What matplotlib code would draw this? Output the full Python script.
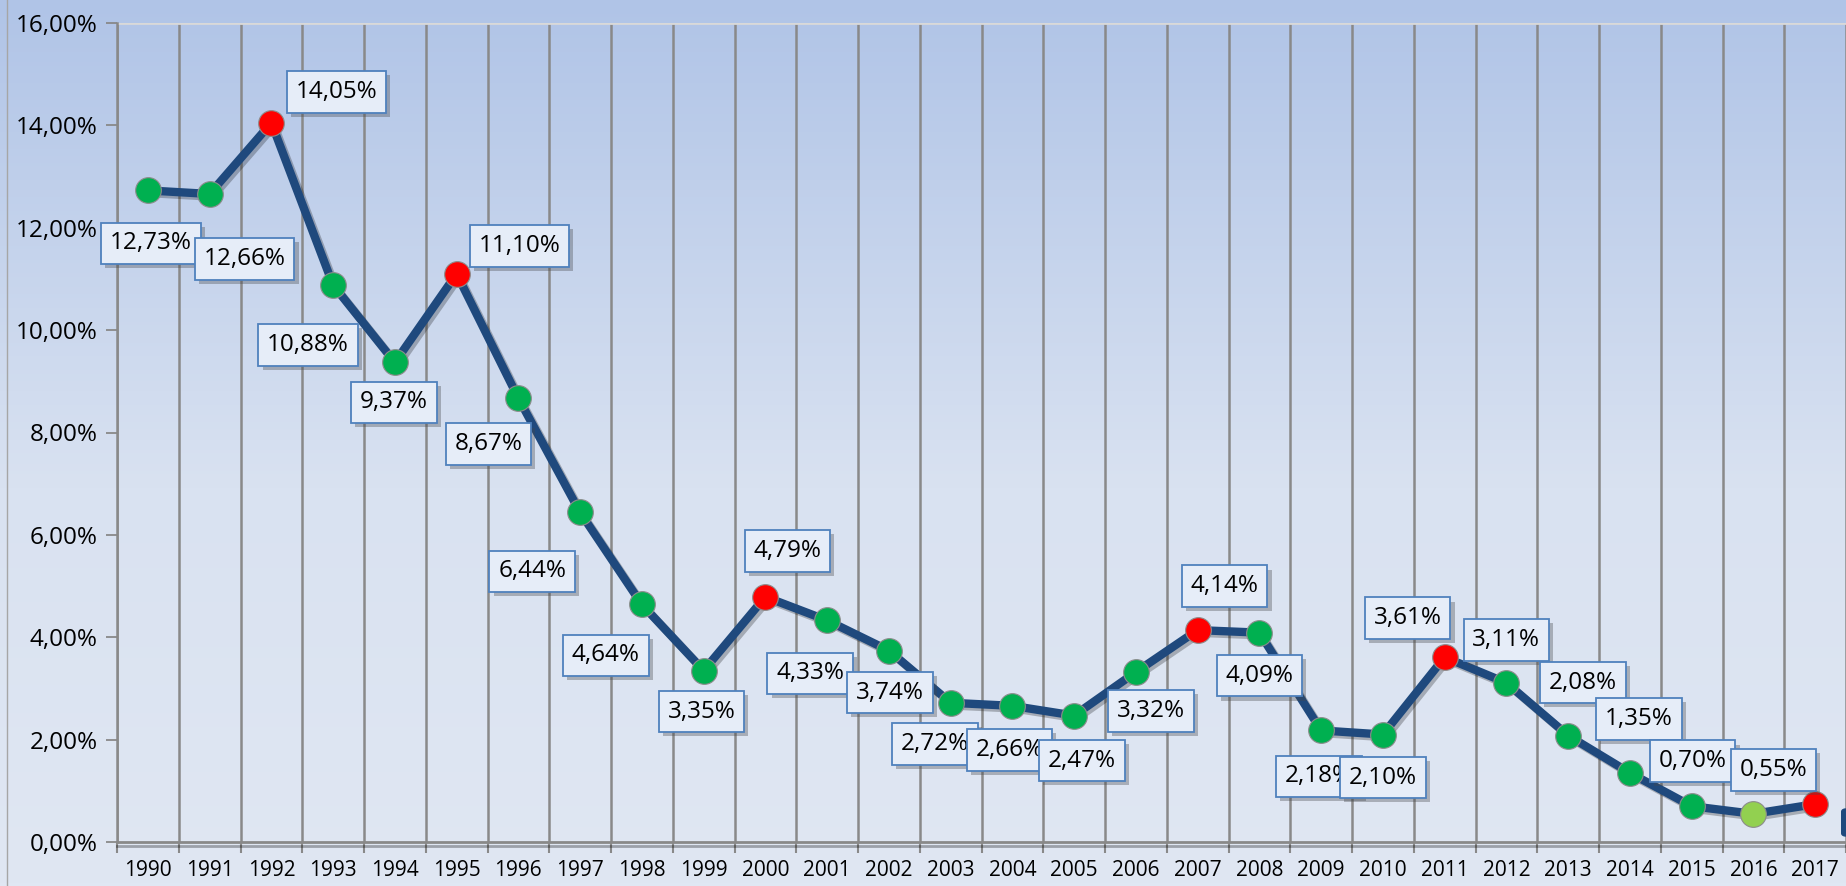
import numpy as np
import matplotlib.pyplot as plt
import matplotlib.patheffects as pe
from matplotlib.colors import LinearSegmentedColormap
from matplotlib.patches import FancyBboxPatch

# 数据
years = list(range(1990, 2018))
values = [12.73, 12.66, 14.05, 10.88, 9.37, 11.10, 8.67, 6.44, 4.64, 3.35,
          4.79, 4.33, 3.74, 2.72, 2.66, 2.47, 3.32, 4.14, 4.09, 2.18,
          2.10, 3.61, 3.11, 2.08, 1.35, 0.70, 0.55, 0.74]
labels = ['12,73%', '12,66%', '14,05%', '10,88%', '9,37%', '11,10%', '8,67%', '6,44%',
          '4,64%', '3,35%', '4,79%', '4,33%', '3,74%', '2,72%', '2,66%', '2,47%',
          '3,32%', '4,14%', '4,09%', '2,18%', '2,10%', '3,61%', '3,11%', '2,08%',
          '1,35%', '0,70%', '0,55%', '']
point_kind = ['g', 'g', 'r', 'g', 'g', 'r', 'g', 'g', 'g', 'g',
              'r', 'g', 'g', 'g', 'g', 'g', 'g', 'r', 'g', 'g',
              'g', 'r', 'g', 'g', 'g', 'g', 'lg', 'r']

# 标签偏移 (像素)
label_offsets = [(3, -53), (35, -65), (65, 31), (-25, -60), (-1, -40), (63, 28),
                 (-30, -46), (-48, -59), (-36, -51), (-2, -41), (22, 46), (-17, -53),
                 (1, -42), (-16, -41), (-3, -44), (8, -45), (15, -39), (27, 44),
                 (0, -43), (-2, -46), (0, -43), (-37, 39), (0, 43), (15, 53),
                 (9, 54), (1, 45), (20, 44), (0, 0)]
kind_colors = {'g': '#00b050', 'r': '#ff0000', 'lg': '#92d050'}

plt.rcParams['font.family'] = ['Open Sans', 'DejaVu Sans']

W, H = 1846, 886
fig = plt.figure(figsize=(W / 100, H / 100), dpi=100)

# 背景渐变
bg = fig.add_axes([0, 0, 1, 1], zorder=0)
cmap = LinearSegmentedColormap.from_list('bg', [(0, '#b0c4e7'), (0.55, '#d9e2f1'), (1, '#e0e7f3')])
bg.imshow(np.linspace(0, 1, 256).reshape(-1, 1), aspect='auto', cmap=cmap,
          extent=[0, 1, 0, 1], origin='upper')
bg.axvline(7 / W, color='#a6a6a6', lw=1)
bg.set_xlim(0, 1)
bg.set_ylim(0, 1)
bg.axis('off')

ax = fig.add_axes([117 / W, 44 / H, 1 - 117 / W, (842 - 23) / H], zorder=1)
ax.patch.set_visible(False)

x = np.arange(len(years))
ax.plot(x, values, color='#1f497d', lw=6, solid_capstyle='round', zorder=3,
        path_effects=[pe.SimpleLineShadow(offset=(2, -2), alpha=0.25), pe.Normal()])
for xi, v, k in zip(x, values, point_kind):
    ax.plot(xi, v, 'o', ms=18.5, mfc=kind_colors[k], mec='#8c8c8c', mew=0.8, zorder=4)

for xi, v, lab, (dx, dy) in zip(x, values, labels, label_offsets):
    if not lab:
        continue
    t = ax.annotate(lab, (xi, v), xytext=(dx, dy), textcoords='offset pixels',
                    ha='center', va='center', fontsize=17.5, color='black', zorder=5,
                    bbox=dict(boxstyle='square,pad=0.36', fc='#e6edf8', ec='#4f81bd', lw=1.3))
    t.get_bbox_patch().set_path_effects([pe.SimplePatchShadow(offset=(3, -3), alpha=0.35),
                                         pe.Normal()])

# 竖向网格 (类别之间)
for b in np.arange(-0.5, len(years), 1.0):
    ax.axvline(b, color='#898989', lw=1.8, zorder=1)
ax.axhline(16, color='#d9d9d9', lw=2, zorder=1)

ax.set_xlim(-0.5, -0.5 + (W - 117) / 61.9)
ax.set_ylim(0, 16)
ax.set_yticks(np.arange(0, 17, 2))
ax.set_yticklabels([f'{v:.2f}%'.replace('.', ',') for v in np.arange(0, 17, 2)])
ax.set_xticks(np.arange(-0.5, len(years), 1.0), minor=False)
ax.set_xticklabels([])
ax.set_xticks(x, minor=True)
ax.set_xticklabels([str(y) for y in years], minor=True)
ax.tick_params(axis='x', which='major', length=8, color='#898989', width=1.5)
ax.tick_params(axis='x', which='minor', length=0, pad=13, labelsize=15)
ax.tick_params(axis='y', length=8, color='#898989', width=1.3, labelsize=17.5, pad=6)

for s in ['top', 'right']:
    ax.spines[s].set_visible(False)
ax.spines['left'].set_color('#898989')
ax.spines['left'].set_linewidth(1.8)
ax.spines['bottom'].set_color('#898989')
ax.spines['bottom'].set_linewidth(2)
ax.spines['bottom'].set_path_effects([pe.SimpleLineShadow(offset=(0, -3), alpha=0.3), pe.Normal()])

# 右下角截断的图例块
fig.patches.append(FancyBboxPatch((1841 / W, (H - 837) / H), 10 / W, 29 / H,
                                  boxstyle='round,pad=0,rounding_size=0.004',
                                  transform=fig.transFigure, fc='#1f497d', ec='none', zorder=6))

fig.savefig('out.png', dpi=100)
